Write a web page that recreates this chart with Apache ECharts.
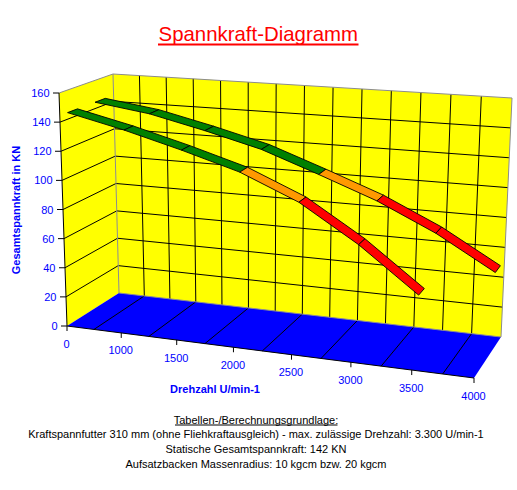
<!DOCTYPE html>
<html><head><meta charset="utf-8">
<script src="https://cdn.jsdelivr.net/npm/echarts@6/dist/echarts.min.js"></script>
<style>html,body{margin:0;padding:0;background:#fff}#c{width:517px;height:490px}</style>
</head><body><div id="c"></div>
<script>
// ---------------- data ----------------
const rpm = ['0','1000','1500','2000','2500','3000','3500','4000'];
const kraft10 = [144.5, 139, 130, 120, 106, 91.5, 73.5, 51.5];
const kraft20 = [144.5, 135.5, 125, 113.5, 97, 73, 44.5, null];
const zone10 = ['ok','ok','ok','ok','warn','crit','crit'];
const zone20 = ['ok','ok','ok','warn','crit','crit'];
const yTicks = [0,20,40,60,80,100,120,140,160];
const seriesNames = ['10 kgcm','20 kgcm'];
const footer = [
  'Tabellen-/Berechnungsgrundlage:',
  'Kraftspannfutter 310 mm (ohne Fliehkraftausgleich) - max. zulässige Drehzahl: 3.300 U/min-1',
  'Statische Gesamtspannkraft: 142 KN',
  'Aufsatzbacken Massenradius: 10 kgcm bzw. 20 kgcm'
];

// ---------------- layout / style ----------------
const Y_MAX = 160;
const BOX = {FLB:[67,326],FRB:[474,378],FLT:[59,93],FRT:[486,124],
             BLB:[119,293],BRB:[501,337],BLT:[113,74],BRT:[512,98]};
const PERSP = 1.084;
const DEPTH = {'10 kgcm':[0.655,0.845],'20 kgcm':[0.145,0.33]};
const ZONE_COL = {ok:'#008000',warn:'#FF9900',crit:'#FF0000'};
const YELLOW = '#FFFF00', BLUE = '#0000FF', GREY = '#8c8c8c', AXBLUE = '#0000FF';
const FONT = "'Liberation Sans', Arial, sans-serif";

function P(u, v, w) {
  const t = u / (PERSP + (1 - PERSP) * u);
  const bil = (LB, RB, LT, RT, i) =>
    (1-t)*(1-v)*LB[i] + t*(1-v)*RB[i] + (1-t)*v*LT[i] + t*v*RT[i];
  const F = [0,1].map(i => bil(BOX.FLB, BOX.FRB, BOX.FLT, BOX.FRT, i));
  const B = [0,1].map(i => bil(BOX.BLB, BOX.BRB, BOX.BLT, BOX.BRT, i));
  return [F[0] + w*(B[0]-F[0]), F[1] + w*(B[1]-F[1])];
}
function norm(p, api) {
  const o = api.coord([0, 0]), e = api.coord([rpm.length - 1, Y_MAX]);
  return [(p[0]-o[0])/(e[0]-o[0]), (p[1]-o[1])/(e[1]-o[1])];
}

function frameRender(params, api) {
  const ch = [];
  const poly = (pts, fill) => ch.push({type:'polygon', shape:{points:pts}, style:{fill:fill}});
  const line = (a, b, stroke, lw) => ch.push({type:'line',
      shape:{x1:a[0],y1:a[1],x2:b[0],y2:b[1]}, style:{stroke:stroke, lineWidth:lw||1}});
  poly([P(0,0,0),P(0,1,0),P(0,1,1),P(0,0,1)], YELLOW);
  poly([P(0,0,1),P(0,1,1),P(1,1,1),P(1,0,1)], YELLOW);
  poly([P(0,0,0),P(0,0,1),P(1,0,1),P(1,0,0)], BLUE);
  const nInt = rpm.length - 1;
  yTicks.forEach(tv => {
    const v = norm(api.coord([0, tv]), api)[1];
    if (v > 0.001 && v < 0.999) {
      line(P(0,v,0), P(0,v,1), '#000');
      line(P(0,v,1), P(1,v,1), '#000');
    }
  });
  for (let j = 1; j < 2*nInt; j++) { const u = j/(2*nInt); line(P(u,0,1), P(u,1,1), '#000'); }
  for (let j = 0; j < nInt; j++) { const u = (2*j+1)/(2*nInt); line(P(u,0,0), P(u,0,1), '#000'); }
  line(P(0,1,0), P(0,1,1), GREY);
  line(P(0,1,1), P(1,1,1), GREY);
  line(P(1,1,1), P(1,0,1), GREY);
  line(P(0,0,1), P(0,1,1), GREY);
  line(P(0,0,1), P(1,0,1), GREY);
  line(P(0,0,0), P(0,1,0), '#000');
  line(P(0,0,0), P(1,0,0), '#000');
  yTicks.forEach(tv => {
    const v = norm(api.coord([0, tv]), api)[1];
    const a = P(0,v,0);
    line([a[0]-6, a[1]], a, '#000');
  });
  for (let k = 0; k <= nInt; k++) {
    const u = norm(api.coord([k, 0]), api)[0];
    const a = P(u,0,0);
    line(a, [a[0], a[1]+5], '#000');
  }
  return {type:'group', children: ch};
}

function ribbonRender(name, zones) {
  const d = DEPTH[name];
  return function (params, api) {
    const k = api.value(0);
    const a = norm(api.coord([k, api.value(1)]), api);
    const b = norm(api.coord([k + 1, api.value(2)]), api);
    const pts = [P(a[0],a[1],d[0]), P(b[0],b[1],d[0]), P(b[0],b[1],d[1]), P(a[0],a[1],d[1])];
    return {type:'polygon', shape:{points:pts},
            style:{fill: ZONE_COL[zones[params.dataIndex]], stroke:'#000', lineWidth:0.9}};
  };
}
function segments(vals) {
  const out = [];
  for (let k = 0; k < vals.length - 1; k++)
    if (vals[k] != null && vals[k+1] != null) out.push([k, vals[k], vals[k+1]]);
  return out;
}

function yLabelRender(params, api) {
  const v = norm(api.coord([0, api.value(1)]), api)[1];
  const a = P(0, v, 0);
  return {type:'text', x:a[0]-9.5, y:a[1],
    style:{text:String(api.value(1)), fill:AXBLUE, font:'11px '+FONT, align:'right', verticalAlign:'middle'}};
}
function xLabelRender(params, api) {
  const u = norm(api.coord([api.value(0), 0]), api)[0];
  const a = P(u, 0, 0);
  return {type:'text', x:a[0]-0.5, y:a[1]+17.5,
    style:{text:rpm[params.dataIndex], fill:AXBLUE, font:'11px '+FONT, align:'center', verticalAlign:'middle'}};
}

const chart = echarts.init(document.getElementById('c'), null, {renderer:'svg'});
chart.setOption({
  animation:false,
  grid:{left:0,right:0,top:0,bottom:0},
  xAxis:{type:'category', data:rpm, boundaryGap:false, show:false},
  yAxis:{type:'value', min:0, max:Y_MAX, interval:20, show:false},
  series:[
    {type:'custom', name:'frame', silent:true, renderItem:frameRender, data:[[0,0]]},
    {type:'custom', name:seriesNames[0], silent:true, renderItem:ribbonRender(seriesNames[0], zone10), data:segments(kraft10)},
    {type:'custom', name:seriesNames[1], silent:true, renderItem:ribbonRender(seriesNames[1], zone20), data:segments(kraft20)},
    {type:'custom', name:'yLabels', silent:true, renderItem:yLabelRender, data:yTicks.map(v=>[0,v])},
    {type:'custom', name:'xLabels', silent:true, renderItem:xLabelRender, data:rpm.map((r,i)=>[i,0])}
  ],
  graphic:[
    {type:'text', x:258.3, y:34, style:{text:'Spannkraft-Diagramm', fill:'#FF0000', font:'20.4px '+FONT, align:'center', verticalAlign:'middle'}},
    {type:'line', shape:{x1:158,y1:44.5,x2:358.5,y2:44.5}, style:{stroke:'#FF0000', lineWidth:2}},
    {type:'text', x:16, y:210, rotation:Math.PI/2, style:{text:'Gesamtspannkraft in KN', fill:AXBLUE, font:'bold 11px '+FONT, align:'center', verticalAlign:'middle'}},
    {type:'text', x:215, y:389, style:{text:'Drehzahl U/min-1', fill:AXBLUE, font:'bold 11px '+FONT, align:'center', verticalAlign:'middle'}},
    {type:'text', x:357, y:158, style:{text:seriesNames[0], fill:'#FF0000', font:'bold 11px '+FONT, align:'center', verticalAlign:'middle'}},
    {type:'text', x:254, y:208, style:{text:seriesNames[1], fill:'#FF0000', font:'bold 11px '+FONT, align:'center', verticalAlign:'middle'}},
    {type:'text', x:256, y:419.5, style:{text:footer[0], fill:'#000', font:'11px '+FONT, align:'center', verticalAlign:'middle'}},
    {type:'line', shape:{x1:175,y1:425,x2:337.5,y2:425}, style:{stroke:'#000', lineWidth:1}},
    {type:'text', x:256, y:434, style:{text:footer[1], fill:'#000', font:'11px '+FONT, align:'center', verticalAlign:'middle'}},
    {type:'text', x:256, y:449, style:{text:footer[2], fill:'#000', font:'11px '+FONT, align:'center', verticalAlign:'middle'}},
    {type:'text', x:256, y:464, style:{text:footer[3], fill:'#000', font:'11px '+FONT, align:'center', verticalAlign:'middle'}}
  ]
});
</script></body></html>
